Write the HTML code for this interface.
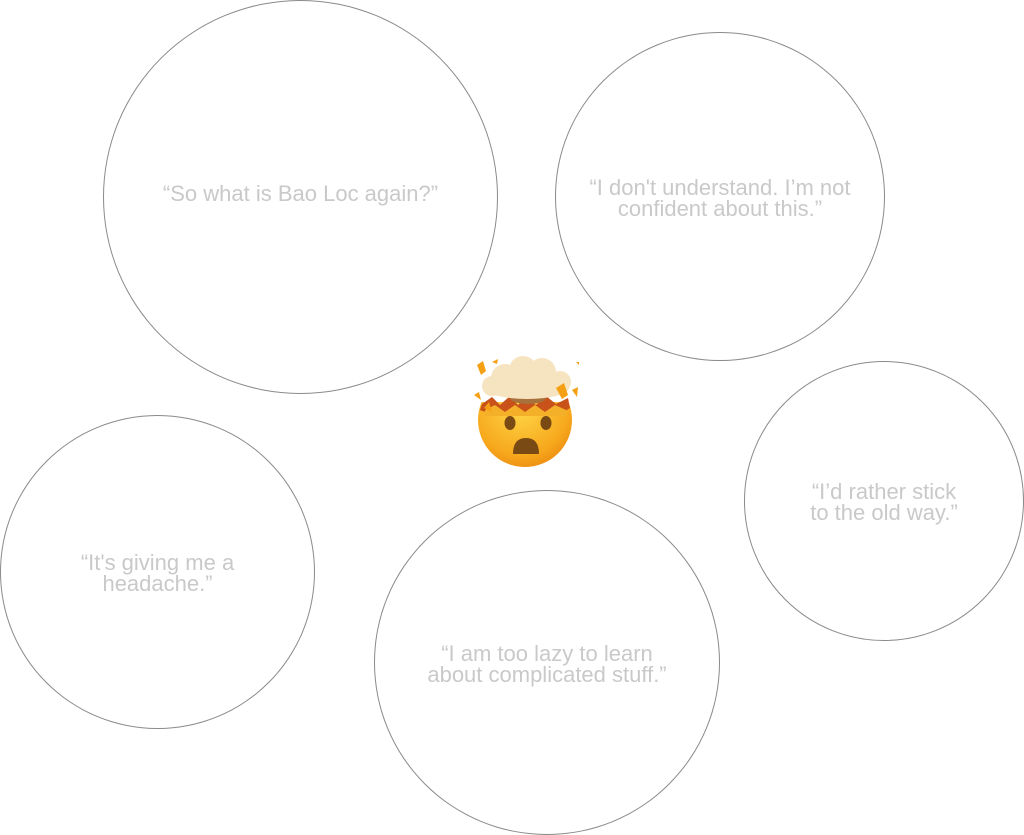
<!DOCTYPE html>
<html><head><meta charset="utf-8"><style>
html,body{margin:0;padding:0;background:#fff;width:1024px;height:835px;overflow:hidden;position:relative}
.c{position:absolute;border:1px solid #8a8a8a;border-radius:50%;box-sizing:border-box;display:flex;align-items:center;justify-content:center;text-align:center;font-family:"Liberation Sans",sans-serif;font-size:22px;line-height:21px;color:#c9c9c9}
.c span{position:relative;top:-4px}
.c span.t2{top:1px}
</style></head><body>
<div class="c" style="left:103px;top:0px;width:395px;height:394px"><span>“So what is Bao Loc again?”</span></div>
<div class="c" style="left:555px;top:32px;width:330px;height:329px"><span class="t2">“I don't understand. I’m not<br>confident about this.”</span></div>
<div class="c" style="left:0px;top:415px;width:315px;height:314px"><span class="t2">“It's giving me a<br>headache.”</span></div>
<div class="c" style="left:374px;top:490px;width:346px;height:345px"><span class="t2">“I am too lazy to learn<br>about complicated stuff.”</span></div>
<div class="c" style="left:744px;top:361px;width:280px;height:280px"><span class="t2">“I’d rather stick<br>to the old way.”</span></div>
<svg style="position:absolute;left:460px;top:350px" width="130" height="125" viewBox="0 0 130 125">
<defs>
<radialGradient id="f" cx="0.45" cy="0.35" r="0.75"><stop offset="0" stop-color="#ffd84a"/><stop offset="0.7" stop-color="#f7a81c"/><stop offset="1" stop-color="#e8820e"/></radialGradient>
<clipPath id="cl"><rect x="0" y="52" width="130" height="80"/></clipPath>
</defs>
<circle cx="65" cy="70" r="47" fill="url(#f)" clip-path="url(#cl)"/>
<path d="M22,54 L32,47 L40,55 L50,46 L58,55 L66,47 L76,55 L86,46 L96,54 L108,48 L110,58 L100,64 L30,64 L20,60Z" fill="#c8521a"/>
<path d="M25,60 L35,55 L45,62 L55,55 L65,62 L75,55 L85,62 L95,55 L106,60 L106,66 L24,66Z" fill="#f5b02a"/>
<ellipse cx="68" cy="48" rx="18" ry="6" fill="#a8703a"/>
<g fill="#f6e3c0">
<circle cx="45" cy="28" r="14"/><circle cx="63" cy="20" r="14"/><circle cx="82" cy="22" r="14"/><circle cx="100" cy="32" r="11"/><circle cx="32" cy="36" r="10"/>
<ellipse cx="67" cy="38" rx="42" ry="11"/>
</g>
<path d="M17,15 l6,-4 l3,10 l-5,4z M32,12 l6,-3 l-1,5z M116,12 l3,0 l0,3z M96,38 l8,-5 l4,12 l-6,4z M112,40 l6,-3 l-1,10z M14,45 l5,-3 l2,8z M24,58 l5,-6 l3,10z" fill="#f5a014"/>
<ellipse cx="50" cy="73" rx="5.5" ry="7" fill="#7a4a14"/>
<ellipse cx="86" cy="73" rx="5.5" ry="7" fill="#7a4a14"/>
<path d="M53,104 Q53,88 66,88 Q79,88 79,104 Z" fill="#7a4a14"/>
</svg>
</body></html>
